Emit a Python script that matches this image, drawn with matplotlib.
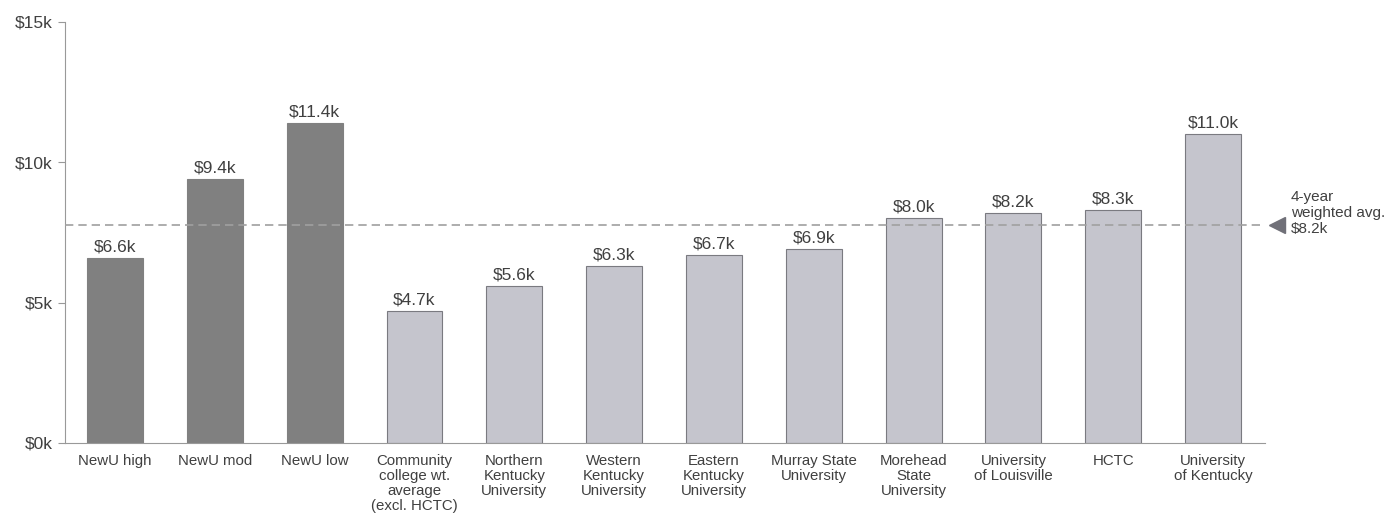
import matplotlib.pyplot as plt

plt.rcParams['font.family'] = ['Liberation Sans', 'DejaVu Sans']

categories = ['NewU high', 'NewU mod', 'NewU low',
              'Community\ncollege wt.\naverage\n(excl. HCTC)',
              'Northern\nKentucky\nUniversity', 'Western\nKentucky\nUniversity',
              'Eastern\nKentucky\nUniversity', 'Murray State\nUniversity',
              'Morehead\nState\nUniversity', 'University\nof Louisville',
              'HCTC', 'University\nof Kentucky']
values = [6.6, 9.4, 11.4, 4.7, 5.6, 6.3, 6.7, 6.9, 8.0, 8.2, 8.3, 11.0]
is_newu = [True, True, True] + [False] * 9
avg_line = 7.75
avg_label = '4-year\nweighted avg.\n$8.2k'
yticks = [0, 5, 10, 15]

txt = '#404040'
fig = plt.figure(figsize=(13.87, 5.21), dpi=100)
ax = fig.add_axes([0.047, 0.15, 0.865, 0.808])

x = range(len(values))
colors = ['#808080' if n else '#c5c5cd' for n in is_newu]
edges = ['#808080' if n else '#7a7a80' for n in is_newu]
ax.bar(x, values, width=0.56, color=colors, edgecolor=edges, linewidth=0.8, zorder=2)

for i, v in enumerate(values):
    ax.text(i, v + 0.12, f'${v:.1f}k', ha='center', va='bottom', fontsize=12.5, color=txt)

# dashed average line with arrow marker and note on the right
ax.axhline(avg_line, color='#a0a0a0', linestyle=(0, (5, 3)), linewidth=1.2, zorder=3, clip_on=False)
ax.plot([11.64], [avg_line], marker='<', markersize=11, color='#707078', clip_on=False)
ax.text(11.78, avg_line + 0.45, avg_label, ha='left', va='center', fontsize=11, color=txt, linespacing=1.2)

ax.set_xlim(-0.5, 11.52)
ax.set_ylim(0, 15)
ax.set_yticks(yticks)
ax.set_yticklabels([f'${t}k' for t in yticks], fontsize=12.5, color=txt)
ax.set_xticks(list(x))
ax.set_xticklabels(categories, fontsize=10.8, color=txt, linespacing=1.1, va='top')
ax.tick_params(axis='x', length=0, pad=8)
ax.tick_params(axis='y', length=5, color='#999999', pad=4)

for s in ['top', 'right']:
    ax.spines[s].set_visible(False)
ax.spines['left'].set_color('#999999')
ax.spines['bottom'].set_color('#999999')

fig.savefig('out.png', dpi=100)
